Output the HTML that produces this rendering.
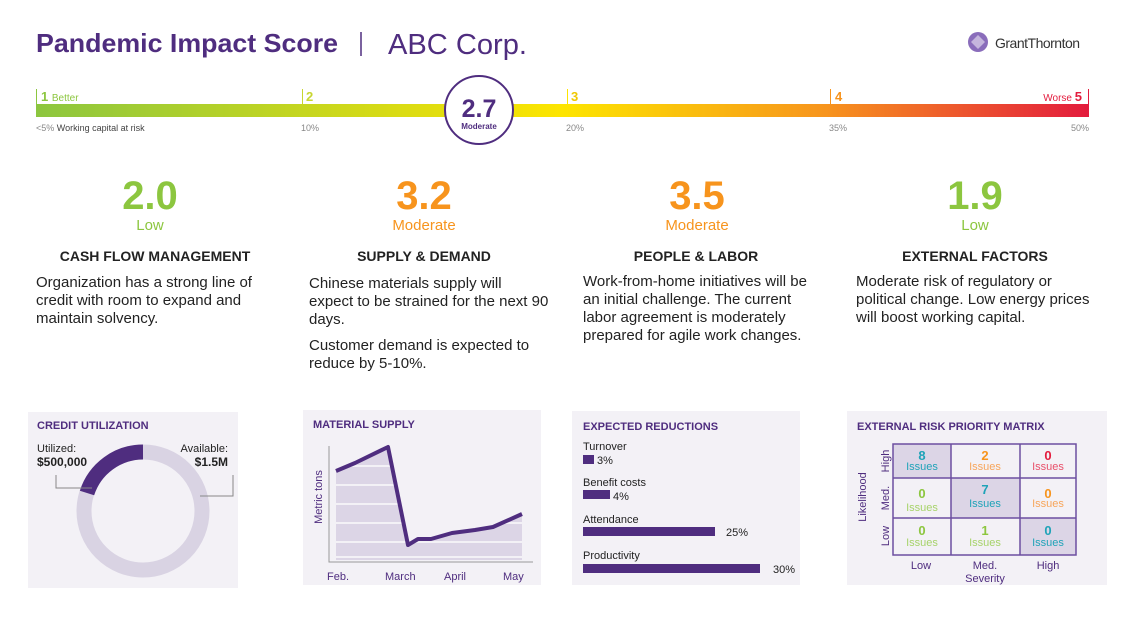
<!DOCTYPE html>
<html><head><meta charset="utf-8"><style>
body{margin:0;background:#fff;width:1130px;height:636px;overflow:hidden}
svg{font-family:"Liberation Sans",sans-serif}
</style></head><body>
<svg width="1130" height="636" viewBox="0 0 1130 636">
<defs>
<linearGradient id="g" x1="0" x2="1">
<stop offset="0" stop-color="#8cc63f"/><stop offset="0.5" stop-color="#fde500"/><stop offset="0.75" stop-color="#f7941d"/><stop offset="1" stop-color="#e31b3d"/>
</linearGradient>
</defs>
<text x="36" y="52" font-size="26" font-weight="bold" fill="#4f2d7f" textLength="302" lengthAdjust="spacingAndGlyphs">Pandemic Impact Score</text>
<line x1="361" y1="32" x2="361" y2="56" stroke="#4f2d7f" stroke-width="1.5"/>
<text x="388" y="54" font-size="29" fill="#4f2d7f" textLength="139" lengthAdjust="spacingAndGlyphs">ABC Corp.</text>
<circle cx="978" cy="42" r="10" fill="#8a6dbb"/><path d="M978 35 l7 7 l-7 7 l-7 -7z" fill="#fff" opacity=".5"/>
<text x="995" y="48" font-size="14" fill="#333" letter-spacing="-0.5">GrantThornton</text>
<rect x="36" y="104" width="1053" height="13" fill="url(#g)"/>
<g stroke-width="1"><line x1="36.5" y1="89" x2="36.5" y2="104" stroke="#8cc63f"/><line x1="302.5" y1="89" x2="302.5" y2="104" stroke="#c8d630"/><line x1="567.5" y1="89" x2="567.5" y2="104" stroke="#fde500"/><line x1="830.5" y1="89" x2="830.5" y2="104" stroke="#f7941d"/><line x1="1088.5" y1="89" x2="1088.5" y2="104" stroke="#e31b3d"/></g>
<text x="41" y="101" font-size="13" font-weight="bold" fill="#8cc63f">1 <tspan font-size="10" font-weight="normal">Better</tspan></text>
<text x="306" y="101" font-size="13" font-weight="bold" fill="#c8d630">2</text>
<text x="571" y="101" font-size="13" font-weight="bold" fill="#f0c800">3</text>
<text x="835" y="101" font-size="13" font-weight="bold" fill="#f7941d">4</text>
<text x="1082" y="101" font-size="13" font-weight="bold" fill="#e31b3d" text-anchor="end"><tspan font-size="10" font-weight="normal">Worse </tspan>5</text>
<g font-size="9" fill="#888"><text x="36" y="131">&lt;5%  <tspan fill="#444">Working capital at risk</tspan></text><text x="301" y="131">10%</text><text x="566" y="131">20%</text><text x="829" y="131">35%</text><text x="1089" y="131" text-anchor="end">50%</text></g>
<circle cx="479" cy="110" r="34" fill="#fff" stroke="#4f2d7f" stroke-width="2"/>
<text x="479" y="117" font-size="25" font-weight="bold" fill="#4f2d7f" text-anchor="middle">2.7</text>
<text x="479" y="129" font-size="8" font-weight="bold" fill="#4f2d7f" text-anchor="middle">Moderate</text>
<g text-anchor="middle">
<text x="150" y="209" font-size="40" font-weight="bold" fill="#8cc63f">2.0</text><text x="150" y="230" font-size="15" fill="#8cc63f">Low</text>
<text x="424" y="209" font-size="40" font-weight="bold" fill="#f7941d">3.2</text><text x="424" y="230" font-size="15" fill="#f7941d">Moderate</text>
<text x="697" y="209" font-size="40" font-weight="bold" fill="#f7941d">3.5</text><text x="697" y="230" font-size="15" fill="#f7941d">Moderate</text>
<text x="975" y="209" font-size="40" font-weight="bold" fill="#8cc63f">1.9</text><text x="975" y="230" font-size="15" fill="#8cc63f">Low</text>
<g font-size="14" font-weight="bold" fill="#222"><text x="155" y="261">CASH FLOW MANAGEMENT</text><text x="424" y="261">SUPPLY &amp; DEMAND</text><text x="696" y="261">PEOPLE &amp; LABOR</text><text x="975" y="261">EXTERNAL FACTORS</text></g>
</g>
<g font-size="15" fill="#222">
<text x="36" y="287">Organization has a strong line of</text><text x="36" y="305">credit with room to expand and</text><text x="36" y="323">maintain solvency.</text>
<text x="309" y="288">Chinese materials supply will</text><text x="309" y="306">expect to be strained for the next 90</text><text x="309" y="324">days.</text>
<text x="309" y="350">Customer demand is expected to</text><text x="309" y="368">reduce by 5-10%.</text>
<text x="583" y="286">Work-from-home initiatives will be</text><text x="583" y="304">an initial challenge. The current</text><text x="583" y="322">labor agreement is moderately</text><text x="583" y="340">prepared for agile work changes.</text>
<text x="856" y="286">Moderate risk of regulatory or</text><text x="856" y="304">political change. Low energy prices</text><text x="856" y="322">will boost working capital.</text>
</g>
<g fill="#f3f1f6"><rect x="28" y="412" width="210" height="176"/><rect x="303" y="410" width="238" height="175"/><rect x="572" y="411" width="228" height="174"/><rect x="847" y="411" width="260" height="174"/></g>
<g font-size="11" font-weight="bold" fill="#4f2d7f"><text x="37" y="429">CREDIT UTILIZATION</text><text x="313" y="428">MATERIAL SUPPLY</text><text x="583" y="430">EXPECTED REDUCTIONS</text><text x="857" y="430">EXTERNAL RISK PRIORITY MATRIX</text></g>
<circle cx="143" cy="511" r="59" fill="none" stroke="#d9d3e3" stroke-width="15"/>
<path d="M143 452 A59 59 0 0 0 87 493" fill="none" stroke="#4f2d7f" stroke-width="15"/>
<text x="37" y="452" font-size="11" fill="#222">Utilized:</text><text x="37" y="466" font-size="12" font-weight="bold" fill="#222">$500,000</text>
<text x="228" y="452" font-size="11" fill="#222" text-anchor="end">Available:</text><text x="228" y="466" font-size="12" font-weight="bold" fill="#222" text-anchor="end">$1.5M</text>
<polyline points="56,475 56,488 92,488" fill="none" stroke="#888"/>
<polyline points="233,475 233,496 200,496" fill="none" stroke="#888"/>
<path d="M336,471 L355,463 L388,447 L408,545 L418,539 L431,539 L452,533 L475,530 L493,527 L522,514 L522,560 L336,560Z" fill="#dcd5e6"/>
<g stroke="#f3f1f6" stroke-width="2"><line x1="330" y1="466" x2="525" y2="466"/><line x1="330" y1="485" x2="525" y2="485"/><line x1="330" y1="504" x2="525" y2="504"/><line x1="330" y1="523" x2="525" y2="523"/><line x1="330" y1="542" x2="525" y2="542"/><line x1="330" y1="557" x2="525" y2="557"/></g>
<polyline points="336,471 355,463 388,447 408,545 418,539 431,539 452,533 475,530 493,527 522,514" fill="none" stroke="#4f2d7f" stroke-width="4" stroke-linejoin="round"/>
<polyline points="329,446 329,562 533,562" fill="none" stroke="#999"/>
<text transform="translate(322,497) rotate(-90)" font-size="11" fill="#4f2d7f" text-anchor="middle">Metric tons</text>
<g font-size="11" fill="#4f2d7f"><text x="327" y="580">Feb.</text><text x="385" y="580">March</text><text x="444" y="580">April</text><text x="503" y="580">May</text></g>
<g font-size="11" fill="#222"><text x="583" y="450">Turnover</text><text x="583" y="486">Benefit costs</text><text x="583" y="523">Attendance</text><text x="583" y="559">Productivity</text>
<text x="597" y="464">3%</text><text x="613" y="500">4%</text><text x="726" y="536">25%</text><text x="773" y="573">30%</text></g>
<g fill="#4f2d7f"><rect x="583" y="455" width="11" height="9"/><rect x="583" y="490" width="27" height="9"/><rect x="583" y="527" width="132" height="9"/><rect x="583" y="564" width="177" height="9"/></g>
<g fill="#dcd5e6"><rect x="893" y="444" width="58" height="34"/><rect x="951" y="478" width="69" height="40"/><rect x="1020" y="518" width="56" height="37"/></g>
<g fill="none" stroke="#6d4fa0" stroke-width="1.5"><rect x="893" y="444" width="183" height="111"/><line x1="951" y1="444" x2="951" y2="555"/><line x1="1020" y1="444" x2="1020" y2="555"/><line x1="893" y1="478" x2="1076" y2="478"/><line x1="893" y1="518" x2="1076" y2="518"/></g>
<g text-anchor="middle" font-size="11">
<g font-size="13" font-weight="bold"><text x="922" y="460" fill="#1fa3b8">8</text><text x="985" y="460" fill="#f7941d">2</text><text x="1048" y="460" fill="#e31b3d">0</text>
<text x="922" y="498" fill="#8cc63f">0</text><text x="985" y="494" fill="#1fa3b8">7</text><text x="1048" y="498" fill="#f7941d">0</text>
<text x="922" y="535" fill="#8cc63f">0</text><text x="985" y="535" fill="#8cc63f">1</text><text x="1048" y="535" fill="#1fa3b8">0</text></g>
<text x="922" y="470" fill="#1fa3b8">Issues</text><text x="985" y="470" fill="#f7a55a">Issues</text><text x="1048" y="470" fill="#e8506a">Issues</text>
<text x="922" y="511" fill="#a7d36a">Issues</text><text x="985" y="507" fill="#1fa3b8">Issues</text><text x="1048" y="507" fill="#f7a55a">Issues</text>
<text x="922" y="546" fill="#a7d36a">Issues</text><text x="985" y="546" fill="#a7d36a">Issues</text><text x="1048" y="546" fill="#1fa3b8">Issues</text>
<g fill="#4f2d7f"><text x="921" y="569">Low</text><text x="985" y="569">Med.</text><text x="1048" y="569">High</text><text x="985" y="582">Severity</text>
<text transform="translate(889,461) rotate(-90)">High</text><text transform="translate(889,498) rotate(-90)">Med.</text><text transform="translate(889,536) rotate(-90)">Low</text>
<text transform="translate(866,497) rotate(-90)">Likelihood</text></g>
</g>
</svg>
</body></html>
